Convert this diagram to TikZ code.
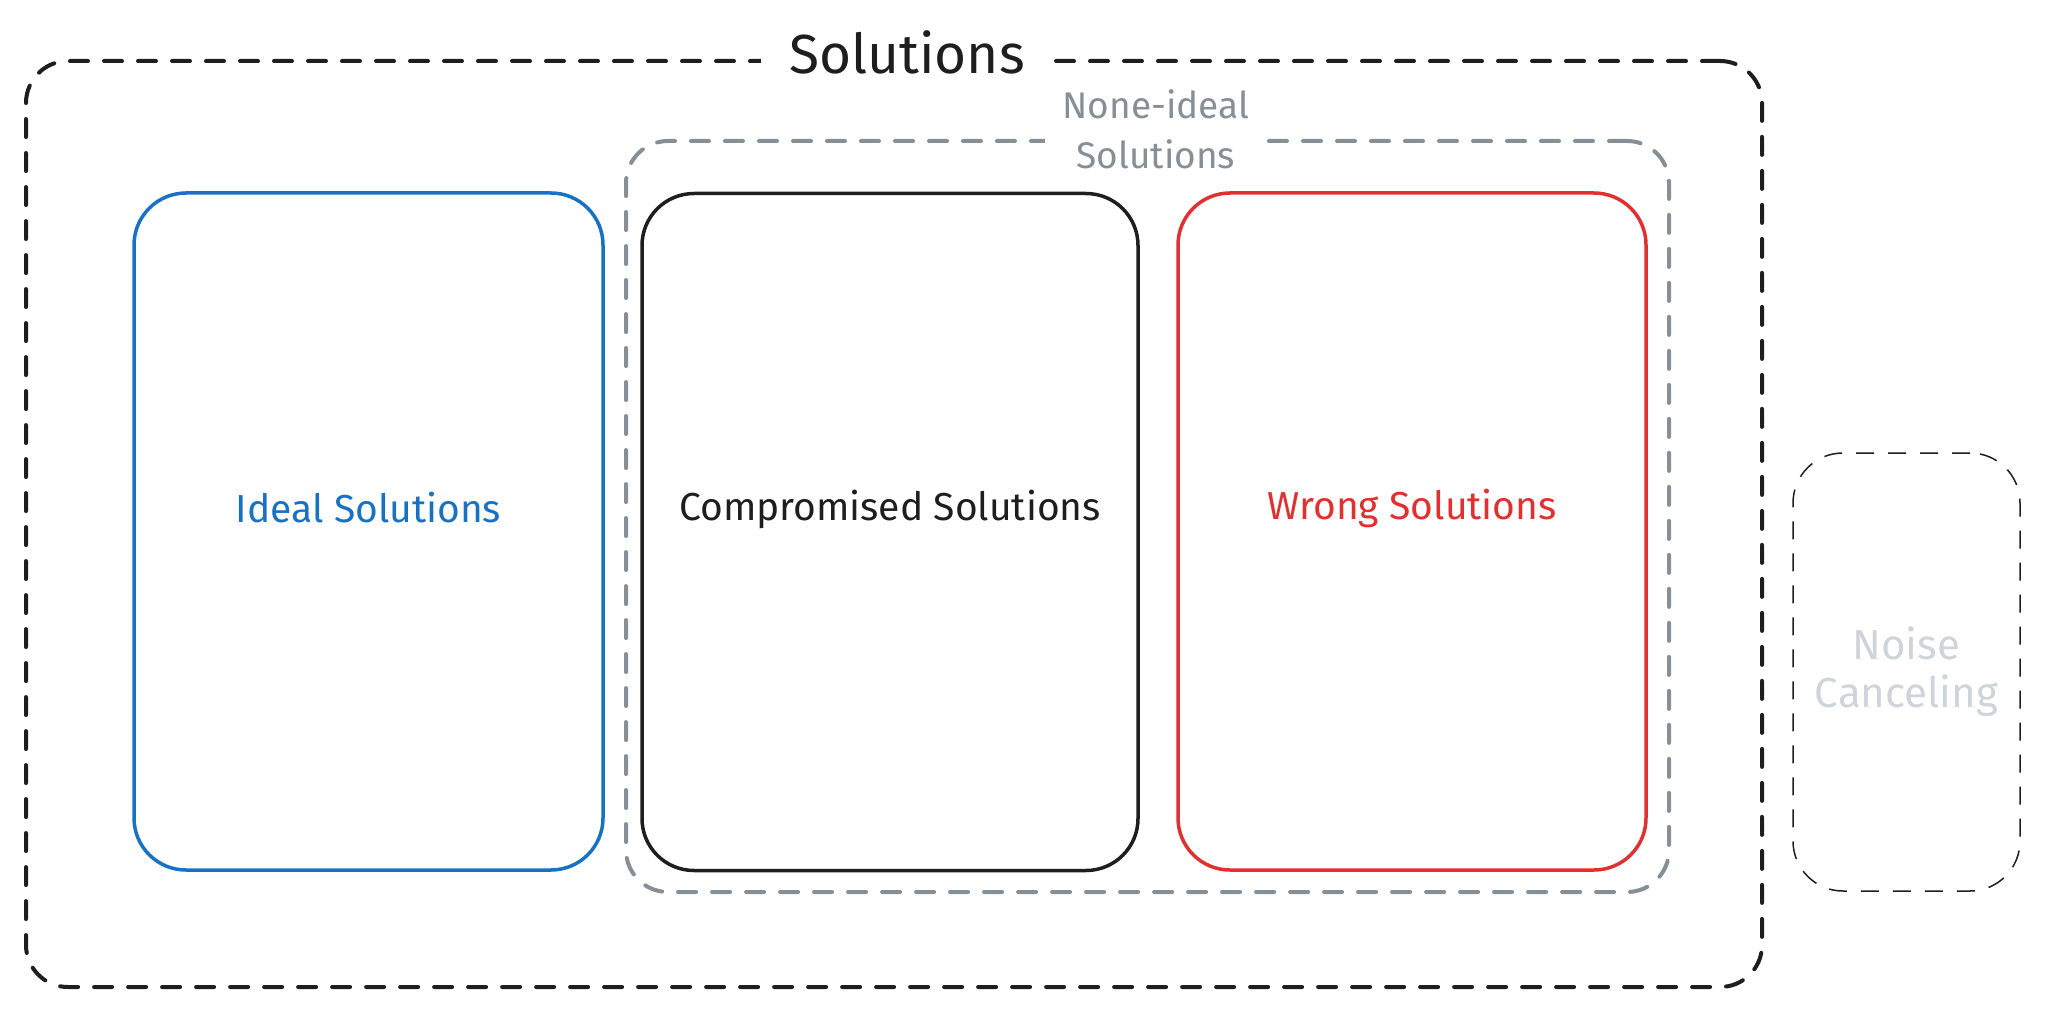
\documentclass[tikz,border=0pt]{standalone}
\usepackage{fontspec}
\setmainfont{Fira Sans}
\definecolor{exblue}{HTML}{1971C2}
\definecolor{exred}{HTML}{E03131}
\definecolor{exink}{HTML}{1E1E1E}
\definecolor{exgray}{HTML}{868E96}
\definecolor{exlight}{HTML}{CED4DA}
\tikzstyle{card} = [rectangle, draw, rounded corners=52pt, line width=3.5pt, inner sep=0pt, outer sep=0pt, minimum height=677pt]
\tikzstyle{group} = [rectangle, draw, rounded corners=42pt, line width=4pt, line cap=round, dash pattern=on 18pt off 16pt, inner sep=0pt, outer sep=0pt]
\tikzstyle{cardtext} = [font=\fontsize{39}{45}\selectfont]
\tikzstyle{grouptext} = [fill=white, align=center, font=\fontsize{37}{50}\selectfont]
\newcommand{\bigsize}{\fontsize{55}{62}\selectfont}

\begin{document}
\begin{tikzpicture}[x=1pt, y=-1pt]%
			\useasboundingbox (0,0) rectangle (2048,1019);%
			% outer group and the none-ideal group
			\node (outer) at (894,524) [group, draw=exink, minimum width=1736pt, minimum height=926pt] {};%
			\node (nonideal) at (1147.5,516.5) [group, draw=exgray, minimum width=1043pt, minimum height=751pt] {};%
			\node (outer-t) at (907,52) [grouptext, text=exink, font=\bigsize, inner xsep=28pt] {Solutions};%
			\node (nonideal-t) at (1156,129) [grouptext, text=exgray, inner xsep=18pt, inner ysep=2pt] {None-ideal\\Solutions};%
			% the three cards
			\node (ideal) at (368.5,531.5) [card, draw=exblue, minimum width=469pt] {};%
			\node (comp) at (890,532) [card, draw=exink, minimum width=496pt] {};%
			\node (wrong) at (1412,531.5) [card, draw=exred, minimum width=468pt] {};%
			\node (ideal-t) at ([yshift=24pt]ideal.center) [cardtext, text=exblue] {Ideal Solutions};%
			\node (comp-t) at ([yshift=23pt]comp.center) [cardtext, text=exink] {Compromised Solutions};%
			\node (wrong-t) at ([yshift=23pt]wrong.center) [cardtext, text=exred] {Wrong Solutions};%
			% left out
			\node (noise) at (1906.5,672) [rectangle, draw=exink, rounded corners=50pt, line width=1.5pt, dash pattern=on 18pt off 14pt, minimum width=227pt, minimum height=438pt, inner sep=0pt, align=center, text=exlight, font=\fontsize{42}{48}\selectfont] {Noise\\Canceling};%
		\end{tikzpicture}
\end{document}
